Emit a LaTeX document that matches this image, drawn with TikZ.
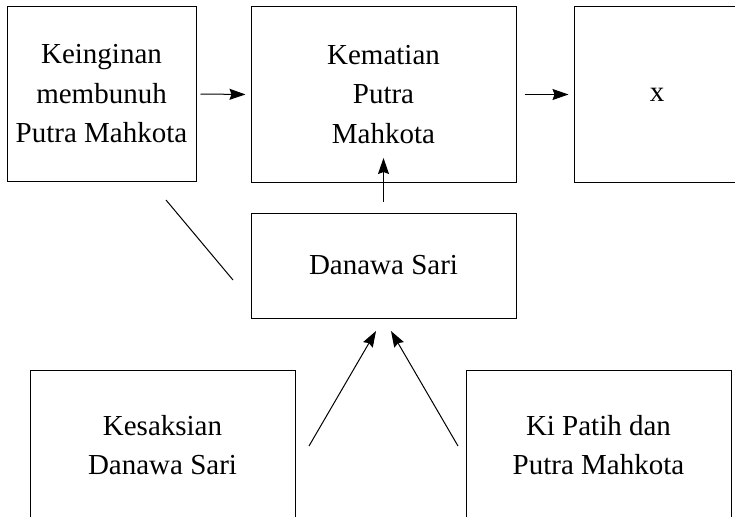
\documentclass[tikz,border=0pt]{standalone}
\usepackage{fontspec}
\setmainfont{Liberation Serif}
\usetikzlibrary{arrows.meta}
\begin{document}
\begin{tikzpicture}[x=1pt,y=-1pt,
  box/.style={draw, line width=1pt, inner sep=0pt, align=center,
    font=\fontsize{29}{39.5}\selectfont},
  link/.style={line width=1pt},
  arr/.style={line width=1pt, -{Stealth[length=16pt,width=11pt,inset=2pt]}}]
\useasboundingbox (0,0) rectangle (735,516);
\clip (0,0) rectangle (735,516);
\node[box, minimum width=189pt, minimum height=174pt] (b1) at (101.5,94) {Keinginan\\membunuh\\Putra Mahkota};
\node[box, minimum width=265pt, minimum height=175pt] (b2) at (383.5,94.5) {Kematian\\Putra\\Mahkota};
\node[box, minimum width=166pt, minimum height=175pt] (b3) at (657,94.5) {x};
\node[box, minimum width=265pt, minimum height=105pt] (b4) at (383.5,265.5) {Danawa Sari};
\node[box, minimum width=265pt, minimum height=150pt] (b5) at (162.5,445) {Kesaksian\\Danawa Sari};
\node[box, minimum width=265pt, minimum height=150pt] (b6) at (598.5,445) {Ki Patih dan\\Putra Mahkota};
\coordinate (v1) at (383.5,202);
\coordinate (v2) at (383.5,158);
\coordinate (d1) at (166,200);
\coordinate (d2) at (233,280);
\coordinate (l1) at (309,446);
\coordinate (l2) at (376,331);
\coordinate (r1) at (458,446);
\coordinate (r2) at (391,331);
\draw[arr, shorten <=4pt, shorten >=5pt] (b1.east) -- (b2.west);
\draw[arr, shorten <=8pt, shorten >=5pt] (b2.east) -- (b3.west);
\draw[arr] (v1) -- (v2);
\draw[link] (d1) -- (d2);
\draw[arr] (l1) -- (l2);
\draw[arr] (r1) -- (r2);
\end{tikzpicture}
\end{document}
